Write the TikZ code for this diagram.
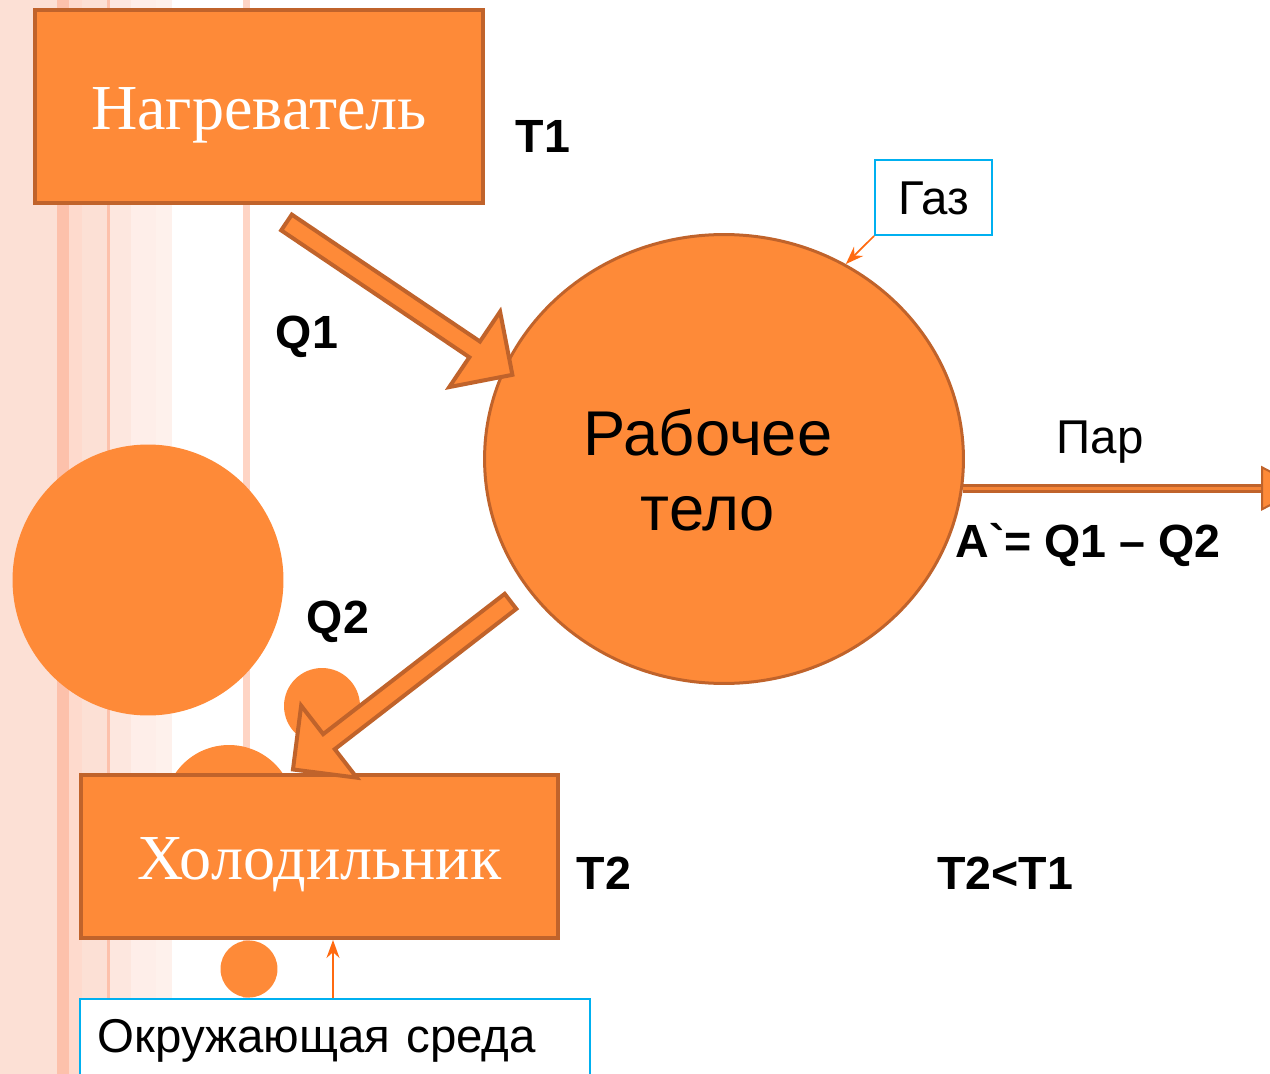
\documentclass[tikz,border=0pt]{standalone}
\usepackage{fontspec}
\setmainfont{Liberation Serif}
\newfontfamily\arialfont{Liberation Sans}
\usetikzlibrary{shapes.geometric,shapes.arrows,arrows.meta,calc}
\definecolor{warm}{HTML}{FE8A38}
\definecolor{warmdark}{HTML}{C0632B}
\definecolor{callout}{HTML}{00B0F0}
\definecolor{pointer}{HTML}{FF6A10}
\definecolor{stripeA}{HTML}{FCE0D5}
\definecolor{stripeB}{HTML}{FDC1AB}
\definecolor{stripeC}{HTML}{FDE7DF}
\definecolor{stripeD}{HTML}{FEF1EC}

\tikzset{
  block/.style={draw=warmdark,fill=warm,line width=0.08cm,inner sep=0pt,
    text=white,font=\fontsize{36.5}{40}\selectfont,text height=26pt,text depth=0pt},
  bodyshape/.style={ellipse,draw=warmdark,fill=warm,line width=0.06cm,inner sep=0pt},
  flowarrow/.style={single arrow,draw=warmdark,fill=warm,line width=0.08cm,inner xsep=0pt,inner ysep=0.15cm,
    minimum width=1.75cm,single arrow head extend=0.72cm,single arrow tip angle=90},
  blob/.style={circle,fill=warm,inner sep=0pt},
  lbl/.style={anchor=base,font=\arialfont\bfseries\fontsize{26.5}{30}\selectfont},
  txt/.style={anchor=base,font=\arialfont\fontsize{27}{30}\selectfont},
  note/.style={draw=callout,fill=white,line width=0.04cm,font=\arialfont\fontsize{27}{30}\selectfont},
  pointto/.style={draw=pointer,line width=0.035cm,-{Stealth[length=0.36cm,width=0.26cm]}}
}

\begin{document}
\begin{tikzpicture}[x=0.02cm,y=-0.02cm]
\useasboundingbox (0,0) rectangle (1270,1074);
\foreach \xa/\xb/\c in {0/57/stripeA,57/69/stripeB,69/82/stripeB!60,82/107/stripeA,107/110/stripeB,
  110/131/stripeC,131/156/stripeC!70,156/172/stripeD,243/250/stripeB!70}
  \fill[\c] (\xa,0) rectangle (\xb,1074);

\node[blob,minimum size=5.42cm] (blob1) at (148,580) {};
\node[blob,minimum size=1.52cm] (blob2) at (322,706) {};
\node[blob,minimum size=2.6cm] (blob3) at (229,810) {};
\node[blob,minimum size=1.14cm] (blob4) at (249,969) {};

\node[block,minimum width=8.96cm,minimum height=3.86cm] (heater) at (259,106.5) {Нагреватель};
\node[block,minimum width=9.54cm,minimum height=3.26cm] (fridge) at (319.5,856.5) {Холодильник};
\node[bodyshape,minimum width=9.58cm,minimum height=8.98cm] (body) at (724,459) {};
\node[align=center,font=\arialfont\fontsize{36}{42.5}\selectfont] (bodytext) at (708,470) {Рабочее\\тело};

\coordinate (q1from) at ($(heater.south)+(22,14)$);
\coordinate (q1to) at (510,373);
\node[flowarrow,minimum height=5.45cm,rotate=-34] (q1arrow) at ($(q1from)!0.5!(q1to)$) {};
\coordinate (q2from) at (516,597);
\coordinate (q2to) at (295,768);
\node[flowarrow,minimum height=5.5cm,rotate=-142.3] (q2arrow) at ($(q2from)!0.5!(q2to)$) {};

\coordinate (parhead) at (1262,0);
\draw[draw=warmdark,double=warm!85!warmdark,double distance=0.07cm,line width=0.06cm] (body.-7) -- (body.-7 -| parhead);
\filldraw[fill=warm,draw=warmdark,line width=0.04cm] ($(body.-7 -| parhead)+(0,-21)$) -- ($(body.-7 -| parhead)+(40,0)$) -- ($(body.-7 -| parhead)+(0,21)$) -- cycle;

\node[note,minimum width=2.34cm,minimum height=1.5cm,text height=19.3pt,text depth=0pt] (gas) at (933.5,197.5) {Газ};
\draw[pointto] (gas.south west) -- (body.58);
\node[note,anchor=north west,text width=9.48cm,inner xsep=0.36cm,inner ysep=0.4cm,text depth=1.6cm] (env) at (79,998) {Окружающая среда};
\coordinate (envpin) at (333,998);
\draw[pointto] (envpin) -- (envpin |- fridge.south);

\node[lbl] (t1) at (543,153) {T1};
\node[lbl] (q1) at (307,348) {Q1};
\node[lbl] (q2) at (338,633) {Q2};
\node[lbl] (t2) at (604,889) {T2};
\node[lbl] (cmp) at (1005,889) {T2<T1};
\node[lbl] (work) at (1088,557) {A`= Q1 – Q2};
\node[txt] (par) at (1100,453) {Пар};
\end{tikzpicture}
\end{document}
